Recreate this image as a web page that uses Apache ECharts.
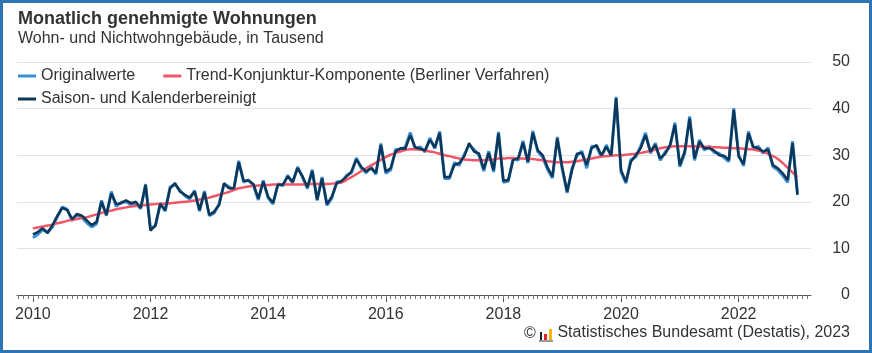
<!DOCTYPE html>
<html>
<head>
<meta charset="utf-8">
<script src="https://cdn.jsdelivr.net/npm/echarts@6/dist/echarts.min.js"></script>
<style>
  html, body { margin: 0; padding: 0; background: #fff; }
  #chart { width: 872px; height: 353px; }
  #frame { position: absolute; left: 0; top: 0; width: 872px; height: 353px;
           box-sizing: border-box; border: 3px solid #2f74b5; pointer-events: none; }
</style>
</head>
<body>
<div id="chart"></div>
<div id="frame"></div>
<script>
// Monatswerte Jan 2010 - Jan 2023, in Tausend
const startYear = 2010

const original = [
  12.3, 13.0, 14.0, 13.5, 14.6, 16.8, 18.9, 18.4, 16.0, 17.2, 16.6, 15.5,
  14.6, 15.3, 20.3, 17.0, 22.2, 19.0, 19.9, 20.0, 19.4, 19.7, 18.5, 23.8,
  14.2, 14.8, 19.8, 18.0, 23.2, 23.7, 22.5, 21.3, 20.6, 22.4, 18.0, 22.3,
  17.0, 17.6, 19.6, 23.8, 23.2, 22.6, 28.8, 24.2, 24.7, 23.5, 20.4, 24.6,
  20.8, 19.5, 23.9, 23.4, 25.7, 24.0, 27.5, 25.3, 22.8, 26.9, 20.3, 25.3,
  19.2, 20.8, 24.3, 24.2, 25.7, 26.2, 29.4, 27.2, 26.2, 27.5, 25.9, 32.5,
  26.1, 26.8, 31.2, 31.2, 31.8, 34.9, 31.3, 31.8, 30.7, 33.7, 31.4, 35.1,
  25.0, 25.0, 28.4, 27.8, 30.1, 32.2, 31.2, 30.0, 26.6, 30.9, 26.4, 35.0,
  24.2, 24.4, 29.4, 28.9, 33.1, 28.3, 35.2, 30.8, 29.6, 27.0, 25.1, 33.9,
  27.0, 21.9, 27.2, 29.9, 30.9, 27.2, 31.9, 31.8, 29.6, 32.2, 29.7, 42.5,
  26.4, 24.0, 29.0, 29.6, 31.9, 34.8, 30.4, 32.6, 28.9, 30.7, 31.8, 37.0,
  27.5, 30.4, 38.3, 28.9, 33.3, 31.1, 31.9, 30.6, 30.4, 29.5, 28.6, 40.1,
  30.1, 27.7, 35.1, 31.4, 31.9, 30.4, 31.6, 27.5, 26.8, 25.6, 24.2, 33.0,
  21.8
]

const trend = [
  14.3, 14.5, 14.7, 14.9, 15.1, 15.4, 15.6, 15.9, 16.1, 16.3, 16.5, 16.7,
  17.0, 17.3, 17.6, 17.9, 18.1, 18.4, 18.6, 18.8, 19.0, 19.1, 19.2, 19.3,
  19.4, 19.5, 19.6, 19.6, 19.7, 19.8, 19.9, 20.0, 20.1, 20.3, 20.5, 20.7,
  20.9, 21.2, 21.5, 21.8, 22.1, 22.5, 22.9, 23.1, 23.3, 23.4, 23.5, 23.6,
  23.6, 23.7, 23.7, 23.7, 23.7, 23.7, 23.7, 23.7, 23.8, 23.8, 23.8, 23.8,
  23.8, 23.9, 24.0, 24.2, 24.7, 25.3, 25.9, 26.6, 27.2, 27.8, 28.4, 29.0,
  29.6, 30.1, 30.5, 30.8, 31.1, 31.3, 31.3, 31.2, 31.0, 30.8, 30.6, 30.3,
  30.0, 29.8, 29.5, 29.3, 29.1, 29.0, 28.9, 28.9, 28.9, 29.0, 29.1, 29.3,
  29.3, 29.4, 29.4, 29.3, 29.3, 29.2, 29.2, 29.0, 28.9, 28.7, 28.6, 28.5,
  28.5, 28.5, 28.6, 28.7, 28.9, 29.1, 29.3, 29.5, 29.7, 29.8, 29.9, 30.0,
  30.0, 30.1, 30.2, 30.3, 30.5, 30.7, 30.9, 31.2, 31.5, 31.7, 31.8, 31.9,
  31.9, 31.9, 31.9, 31.9, 31.8, 31.8, 31.8, 31.7, 31.7, 31.6, 31.6, 31.5,
  31.5, 31.4, 31.3, 31.2, 31.0, 30.7, 30.3, 29.8, 29.2, 28.3, 27.3, 26.3,
  25.3
]

const bereinigt = [
  13.0, 13.5, 14.3, 13.3, 15.0, 17.0, 18.7, 18.2, 16.3, 17.4, 17.0, 16.0,
  15.0, 15.7, 20.0, 17.2, 21.8, 19.5, 19.7, 20.3, 19.7, 20.0, 18.7, 23.6,
  13.8, 15.0, 19.5, 18.2, 22.9, 24.0, 22.2, 21.5, 20.9, 22.2, 18.2, 22.0,
  17.2, 17.9, 19.3, 24.0, 22.9, 22.9, 28.5, 24.5, 24.5, 23.8, 20.7, 24.3,
  21.1, 19.8, 23.6, 23.7, 25.4, 24.3, 27.2, 25.5, 23.1, 26.6, 20.5, 25.0,
  19.5, 21.1, 24.0, 24.5, 25.4, 26.5, 29.1, 27.5, 26.5, 27.2, 26.2, 32.2,
  26.5, 27.2, 30.8, 31.5, 31.4, 34.3, 31.7, 31.4, 31.0, 33.3, 31.7, 34.8,
  25.3, 25.3, 27.9, 28.3, 29.7, 32.6, 30.8, 30.4, 27.0, 30.5, 26.8, 34.7,
  24.5, 24.7, 29.0, 29.3, 32.7, 28.6, 34.8, 31.1, 30.0, 27.4, 25.4, 33.6,
  27.4, 22.2, 26.8, 30.3, 30.5, 27.9, 31.5, 32.2, 30.0, 31.8, 30.0, 42.2,
  26.8, 24.3, 28.6, 30.0, 31.5, 34.3, 30.8, 32.2, 29.3, 30.3, 32.2, 36.5,
  27.9, 30.8, 37.9, 29.3, 32.9, 31.5, 31.5, 31.0, 30.0, 29.9, 29.0, 39.7,
  29.7, 28.1, 34.7, 31.8, 31.5, 30.8, 31.2, 27.9, 27.2, 26.1, 24.7, 32.6,
  21.5
]

const yearLabels = [2010, 2012, 2014, 2016, 2018, 2020, 2022]
const yTicks = [0, 10, 20, 30, 40, 50]

const font = 'Liberation Sans, Arial, sans-serif'
const blueLight = '#3a8fd6'
const navy = '#0d3657'
const rose = '#ef5668'

// Monat i -> Jahreswert auf der x-Achse
const toPairs = (arr) => arr.map((v, i) => [startYear + i / 12, v])

const monthTicks = []
for (let i = -3; i <= 159; i++) monthTicks.push(startYear + i / 12)

const chart = echarts.init(document.getElementById('chart'))

chart.setOption({
  animation: false,
  textStyle: { fontFamily: font },
  title: {
    text: 'Monatlich genehmigte Wohnungen',
    subtext: 'Wohn- und Nichtwohngebäude, in Tausend',
    left: 13,
    top: 5,
    itemGap: 3,
    textStyle: { fontSize: 18, fontWeight: 'bold', color: '#333', fontFamily: font },
    subtextStyle: { fontSize: 16, color: '#333', fontFamily: font }
  },
  legend: [
    {
      data: ['Originalwerte', 'Trend-Konjunktur-Komponente (Berliner Verfahren)'],
      left: 13, top: 63,
      itemWidth: 18, itemHeight: 3, itemGap: 28,
      icon: 'rect',
      textStyle: { fontSize: 16, color: '#333', fontFamily: font }
    },
    {
      data: ['Saison- und Kalenderbereinigt'],
      left: 13, top: 86,
      itemWidth: 18, itemHeight: 3,
      icon: 'rect',
      textStyle: { fontSize: 16, color: '#333', fontFamily: font }
    }
  ],
  grid: { left: 17, right: 61, top: 62, bottom: 58, containLabel: false },
  xAxis: [
    {
      type: 'value',
      min: 2009.73,
      max: 2023.23,
      axisLine: { show: true, lineStyle: { color: '#555', width: 1 } },
      axisTick: { show: true, length: 7, customValues: yearLabels, lineStyle: { color: '#555' } },
      axisLabel: {
        customValues: yearLabels,
        formatter: (v) => String(Math.round(v)),
        fontSize: 16, color: '#333', margin: 12
      },
      splitLine: { show: false }
    },
    {
      type: 'value',
      position: 'bottom',
      min: 2009.73,
      max: 2023.23,
      axisLine: { show: false },
      axisTick: { show: true, length: 4, customValues: monthTicks, lineStyle: { color: '#777' } },
      axisLabel: { show: false },
      splitLine: { show: false }
    }
  ],
  yAxis: {
    type: 'value',
    position: 'right',
    min: 0,
    max: 50,
    interval: 10,
    axisLine: { show: false },
    axisTick: { show: false },
    axisLabel: { fontSize: 16, color: '#333', margin: 39, align: 'right',
                 customValues: yTicks },
    splitLine: { lineStyle: { color: '#e2e2e2', width: 1 } }
  },
  series: [
    {
      name: 'Originalwerte',
      type: 'line',
      data: toPairs(original),
      showSymbol: false,
      lineStyle: { color: blueLight, width: 3 },
      itemStyle: { color: blueLight },
      z: 1
    },
    {
      name: 'Trend-Konjunktur-Komponente (Berliner Verfahren)',
      type: 'line',
      data: toPairs(trend),
      showSymbol: false,
      smooth: true,
      lineStyle: { color: rose, width: 2.5 },
      itemStyle: { color: rose },
      z: 2
    },
    {
      name: 'Saison- und Kalenderbereinigt',
      type: 'line',
      data: toPairs(bereinigt),
      showSymbol: false,
      lineStyle: { color: navy, width: 2.5 },
      itemStyle: { color: navy },
      z: 3
    }
  ],
  graphic: [
    {
      type: 'text', left: 524, top: 326,
      style: { text: '©', font: '16px ' + font, fill: '#333' }
    },
    // Destatis-Logo
    { type: 'rect', left: 540, top: 332, shape: { width: 2, height: 8 }, style: { fill: '#222' } },
    { type: 'rect', left: 544, top: 334, shape: { width: 3, height: 6 }, style: { fill: '#e3242b' } },
    { type: 'rect', left: 549, top: 329, shape: { width: 3, height: 11 }, style: { fill: '#f5b800' } },
    { type: 'rect', left: 539, top: 340, shape: { width: 14, height: 2 }, style: { fill: '#999' } },
    {
      type: 'text', right: 22, top: 325,
      style: { text: 'Statistisches Bundesamt (Destatis), 2023', font: '16px ' + font, fill: '#333' }
    }
  ]
})

window.addEventListener('resize', () => chart.resize())
</script>
</body>
</html>
